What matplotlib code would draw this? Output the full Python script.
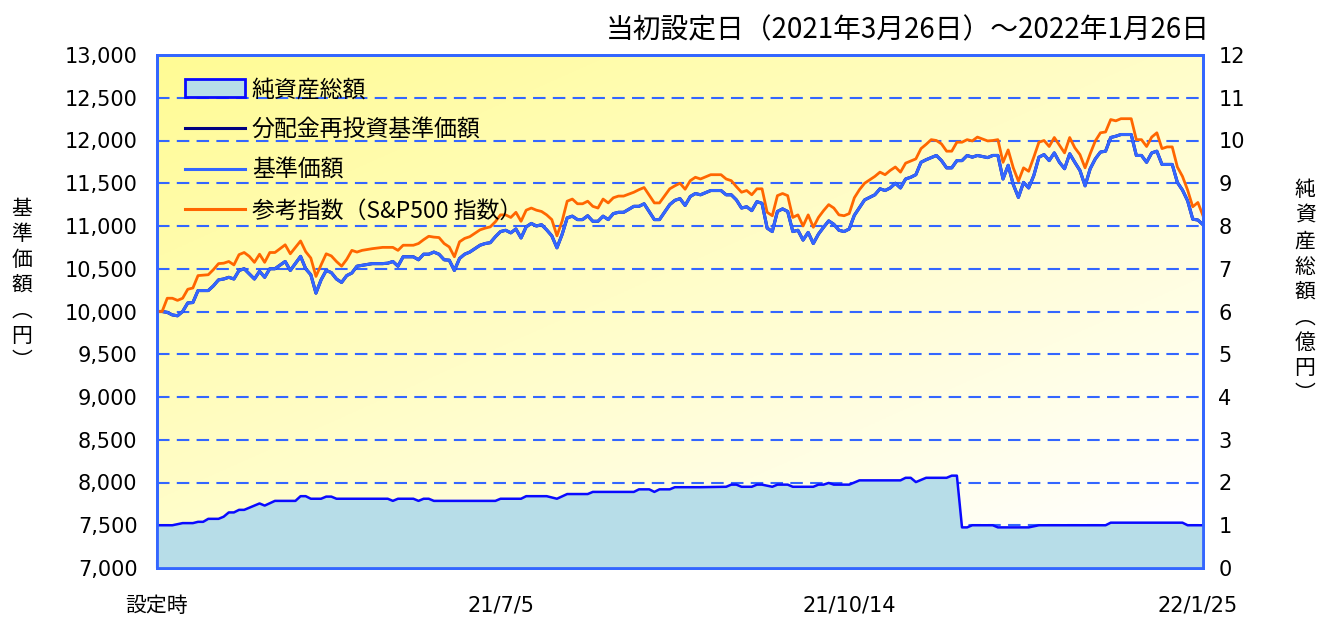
import numpy as np
import matplotlib
matplotlib.use("Agg")
import matplotlib.pyplot as plt
from matplotlib.patches import Patch
from matplotlib.lines import Line2D

plt.rcParams['font.family'] = ['DejaVu Sans', 'Noto Sans CJK JP']

# business day number since launch (0 = 2021/3/26)
days = [0, 1, 2, 3, 4, 5, 6, 7, 8, 10, 11, 12, 13, 14, 15, 16, 17, 18, 19, 20,
        21, 22, 23, 25, 26, 28, 29, 30, 31, 32, 33, 34, 35, 36, 37, 38, 39, 40,
        42, 44, 45, 46, 47, 48, 50, 51, 52, 53, 54, 55, 56, 57, 58, 59, 60, 61,
        63, 64, 65, 66, 67, 68, 69, 70, 71, 72, 73, 74, 75, 76, 77, 78, 79, 80,
        81, 82, 83, 84, 85, 86, 87, 88, 89, 90, 91, 93, 94, 95, 97, 98, 100,
        101, 102, 103, 104, 105, 106, 108, 110, 111, 112, 113, 114, 115, 116,
        117, 118, 119, 120, 121, 122, 123, 124, 125, 126, 127, 128, 129, 130,
        131, 132, 133, 134, 135, 136, 137, 138, 140, 141, 142, 143, 144, 145,
        146, 147, 148, 149, 150, 151, 152, 153, 154, 155, 156, 157, 158, 159,
        160, 162, 163, 164, 165, 166, 167, 168, 169, 170, 171, 172, 173, 174,
        175, 176, 177, 178, 179, 180, 181, 182, 183, 184, 185, 186, 187, 188,
        190, 191, 192, 193, 194, 195, 196, 197, 198, 199, 200, 201, 202, 203, 204]

# 基準価額 (円)
nav = [10000, 10000, 9990, 9960, 9950, 10000, 10100, 10105, 10245, 10245, 10300,
       10370, 10380, 10400, 10380, 10480, 10500, 10440, 10380, 10470, 10400, 10500,
       10500, 10585, 10480, 10645, 10500, 10430, 10215, 10370, 10480, 10455, 10380,
       10340, 10420, 10450, 10530, 10540, 10560, 10560, 10565, 10585, 10530, 10640,
       10640, 10605, 10670, 10670, 10695, 10670, 10605, 10600, 10480, 10620, 10670,
       10695, 10775, 10795, 10805, 10875, 10935, 10950, 10920, 10965, 10860, 10990,
       11030, 11000, 11015, 10955, 10885, 10745, 10900, 11095, 11115, 11075, 11075,
       11120, 11055, 11055, 11115, 11075, 11145, 11160, 11160, 11230, 11230, 11260,
       11075, 11075, 11250, 11300, 11320, 11240, 11345, 11380, 11365, 11415, 11415,
       11365, 11365, 11305, 11210, 11225, 11180, 11285, 11265, 10975, 10935, 11170,
       11200, 11170, 10935, 10950, 10835, 10925, 10795, 10905, 10985, 11060, 11020,
       10950, 10935, 10965, 11125, 11215, 11305, 11365, 11435, 11415, 11445, 11500,
       11445, 11550, 11570, 11600, 11745, 11775, 11800, 11825, 11765, 11680, 11680,
       11765, 11765, 11825, 11805, 11825, 11800, 11825, 11825, 11550, 11710, 11485,
       11335, 11510, 11445, 11590, 11805, 11835, 11765, 11855, 11745, 11670, 11845,
       11745, 11650, 11470, 11670, 11785, 11865, 11875, 12035, 12050, 12070, 12070,
       11825, 11825, 11745, 11855, 11875, 11720, 11720, 11720, 11510, 11420, 11295,
       11080, 11070, 11015]

# 分配金再投資基準価額 (no distributions -> same as nav)
nav_reinvest = list(nav)

# 参考指数 (S&P500)
sp500 = [10000, 10000, 10155, 10155, 10130, 10155, 10260, 10275, 10420, 10430, 10490,
         10560, 10565, 10585, 10545, 10665, 10690, 10645, 10575, 10670, 10575, 10690,
         10690, 10780, 10675, 10825, 10700, 10625, 10410, 10545, 10675, 10650, 10585,
         10530, 10610, 10715, 10695, 10715, 10735, 10750, 10750, 10750, 10715, 10775,
         10775, 10795, 10840, 10880, 10870, 10865, 10795, 10755, 10640, 10815, 10855,
         10875, 10955, 10975, 10990, 11050, 11130, 11130, 11100, 11160, 11055, 11185,
         11210, 11185, 11170, 11130, 11075, 10885, 11055, 11290, 11315, 11260, 11260,
         11290, 11230, 11210, 11315, 11270, 11330, 11350, 11350, 11395, 11425, 11450,
         11270, 11270, 11435, 11470, 11500, 11430, 11530, 11570, 11550, 11600, 11600,
         11550, 11530, 11460, 11395, 11415, 11365, 11435, 11435, 11160, 11120, 11355,
         11380, 11355, 11100, 11130, 11000, 11130, 10985, 11100, 11180, 11250, 11210,
         11130, 11120, 11145, 11330, 11425, 11500, 11580, 11630, 11600, 11650, 11690,
         11630, 11735, 11760, 11785, 11905, 11955, 12010, 12000, 11960, 11875, 11875,
         11980, 11980, 12010, 11995, 12040, 11995, 12000, 12010, 11745, 11890, 11680,
         11525, 11680, 11640, 11805, 11980, 12000, 11930, 12035, 11945, 11855, 12035,
         11915, 11835, 11680, 11845, 11995, 12090, 12100, 12245, 12230, 12255, 12255,
         12010, 12010, 11930, 12040, 12090, 11905, 11925, 11925, 11690, 11580, 11420,
         11225, 11275, 11120]

# 純資産総額 (億円)
asset_days = [0, 3, 5, 7, 8, 9, 10, 12, 13, 14, 15, 16, 17, 20, 21, 23, 27, 28, 29,
              30, 32, 33, 34, 35, 45, 46, 47, 50, 51, 52, 53, 54, 66, 67, 71, 72,
              76, 78, 80, 84, 85, 93, 94, 96, 97, 98, 100, 101, 106, 111, 112, 113,
              114, 116, 117, 118, 120, 121, 123, 124, 128, 129, 130, 131, 132, 135,
              137, 145, 146, 147, 148, 150, 154, 155, 156, 157, 158, 159, 163, 164,
              170, 172, 185, 186, 200, 201, 204]
assets = [1.00, 1.00, 1.05, 1.05, 1.08, 1.08, 1.15, 1.15, 1.20, 1.30, 1.30, 1.36,
          1.36, 1.51, 1.46, 1.57, 1.57, 1.68, 1.68, 1.62, 1.62, 1.67, 1.67, 1.62,
          1.62, 1.57, 1.62, 1.62, 1.57, 1.62, 1.62, 1.57, 1.57, 1.62, 1.62, 1.68,
          1.68, 1.62, 1.73, 1.73, 1.78, 1.78, 1.84, 1.84, 1.78, 1.84, 1.84, 1.89,
          1.89, 1.90, 1.95, 1.95, 1.90, 1.90, 1.95, 1.95, 1.90, 1.95, 1.95, 1.90,
          1.90, 1.95, 1.95, 1.99, 1.95, 1.95, 2.05, 2.05, 2.11, 2.11, 2.01, 2.11,
          2.11, 2.16, 2.16, 0.95, 0.95, 1.00, 1.00, 0.95, 0.95, 1.00, 1.00, 1.06,
          1.06, 1.00, 1.00]

tick_days = [0, 67, 135, 203]
tick_labels = ['設定時', '21/7/5', '21/10/14', '22/1/25']

blue = '#3366ff'
cjk = ['Noto Sans CJK JP', 'DejaVu Sans']

fig = plt.figure(figsize=(13.25, 6.17), dpi=100)
ax = fig.add_axes([157 / 1325, 49 / 617, 1046 / 1325, 513 / 617])
ax2 = ax.twinx()

# yellow (top left) -> white (bottom right) background
gx, gy = np.meshgrid(np.linspace(0, 1, 300), np.linspace(0, 1, 200))
t = np.clip(0.5 * gx + 0.55 * gy, 0, 1)
top = np.array([1.0, 0.985, 0.58])
bg = top[None, None, :] * (1 - t[..., None]) + np.ones(3)[None, None, :] * t[..., None]
ax.imshow(bg, extent=[0, 204, 7000, 13000], origin='upper', aspect='auto', zorder=0)

for yv in range(7500, 13000, 500):
    ax.axhline(yv, color=blue, lw=1.5, dashes=(6, 3.5), zorder=1)

ax.plot(days, nav_reinvest, color='#000080', lw=2.2, zorder=3)
ax.plot(days, nav, color=blue, lw=2.2, zorder=4)
ax.plot(days, sp500, color='#ff6600', lw=2.0, zorder=5)

ax2.fill_between(asset_days, assets, 0, color='#b7dde8', lw=0, zorder=1)
ax2.plot(asset_days, assets, color='#0a0aff', lw=1.8, zorder=2)

ax.set_xlim(0, 204)
ax.set_ylim(7000, 13000)
ax2.set_ylim(0, 12)
ax.set_yticks(range(7000, 13001, 500))
ax.set_yticklabels([f'{v:,}' for v in range(7000, 13001, 500)])
ax2.set_yticks(range(0, 13))
ax.set_xticks(tick_days)
ax.set_xticklabels(tick_labels)

ax.tick_params(axis='y', length=0, pad=14, labelsize=15)
ax2.tick_params(axis='y', length=0, pad=11, labelsize=15)
ax.tick_params(axis='x', direction='in', length=6, width=1.5, color=blue,
               pad=20, labelsize=15)
for a in (ax, ax2):
    for s in a.spines.values():
        s.set_color(blue)
        s.set_linewidth(2)

handles = [Patch(facecolor='#b7dde8', edgecolor='#0a0aff', lw=2),
           Line2D([], [], color='#000080', lw=2.2),
           Line2D([], [], color=blue, lw=2.2),
           Line2D([], [], color='#ff6600', lw=2.2)]
labels = ['純資産総額', '分配金再投資基準価額', '基準価額', '参考指数（S&P500 指数）']
leg = ax2.legend(handles, labels, loc='upper left', bbox_to_anchor=(0.027, 0.955),
                 frameon=False, borderpad=0, borderaxespad=0, handlelength=2.6,
                 handleheight=0.8, handletextpad=0.3, labelspacing=0.76,
                 prop={'family': cjk, 'size': 16.5})

fig.text(1210 / 1325, 1 - 30 / 617, '当初設定日（2021年3月26日）～2022年1月26日',
         ha='right', va='center', fontsize=20, family=cjk)
fig.text(22 / 1325, 1 - 285 / 617, '\n'.join('基準価額︵円︶'), ha='center',
         va='center', fontsize=15, family=cjk, linespacing=1.2)
fig.text(1305 / 1325, 1 - 292 / 617, '\n'.join('純資産総額︵億円︶'), ha='center',
         va='center', fontsize=15, family=cjk, linespacing=1.2)

fig.savefig('out.png', dpi=100)
